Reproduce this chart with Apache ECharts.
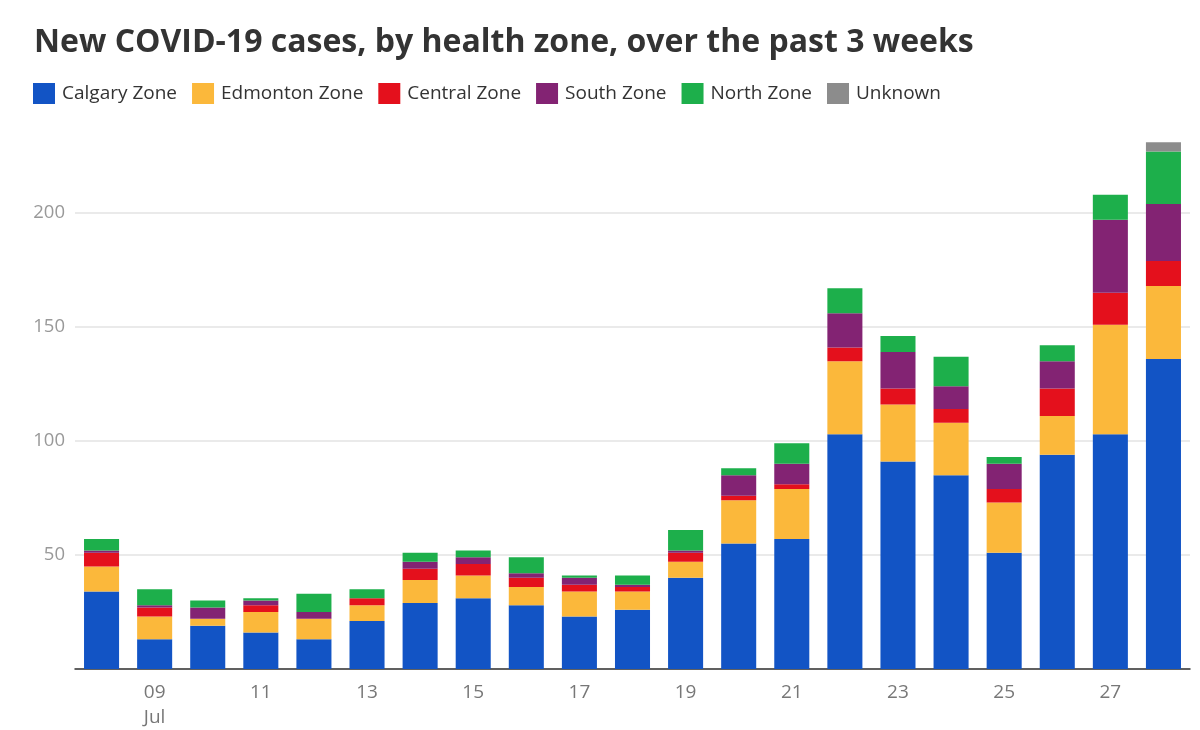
<!DOCTYPE html>
<html><head><meta charset="utf-8">
<script src="https://cdn.jsdelivr.net/npm/echarts@6/dist/echarts.min.js"></script>
<style>html,body{margin:0;padding:0;background:#fff}#c{width:1200px;height:730px}</style>
</head><body><div id="c"></div>
<script>
const days = ['08','09','10','11','12','13','14','15','16','17','18','19','20','21','22','23','24','25','26','27','28'];
const calgary  = [34,13,19,16,13,21,29,31,28,23,26,40,55,57,103,91,85,51,94,103,136];
const edmonton = [11,10,3,9,9,7,10,10,8,11,8,7,19,22,32,25,23,22,17,48,32];
const central  = [6,4,0,3,0,3,5,5,4,3,2,4,2,2,6,7,6,6,12,14,11];
const south    = [1,1,5,2,3,0,3,3,2,3,1,1,9,9,15,16,10,11,12,32,25];
const north    = [5,7,3,1,8,4,4,3,7,1,4,9,3,9,11,7,13,3,7,11,23];
const unknown  = [0,0,0,0,0,0,0,0,0,0,0,0,0,0,0,0,0,0,0,0,4];
const yTicks = [0,50,100,150,200];

const seriesDefs = [
  ['Calgary Zone', calgary, '#1254c5'],
  ['Edmonton Zone', edmonton, '#fbb83b'],
  ['Central Zone', central, '#e4101c'],
  ['South Zone', south, '#832373'],
  ['North Zone', north, '#1daf4b'],
  ['Unknown', unknown, '#8c8c8c']
];

const chart = echarts.init(document.getElementById('c'));
chart.setOption({
  animation: false,
  title: {
    text: 'New COVID-19 cases, by health zone, over the past 3 weeks',
    left: 34, top: 27, padding: 0,
    textStyle: {fontFamily: 'Open Sans', fontWeight: 'bold', fontSize: 32, color: '#333'}
  },
  legend: {
    left: 33, top: 83, padding: 0,
    icon: 'rect', itemWidth: 22, itemHeight: 21, itemGap: 15,
    textStyle: {fontFamily: 'Open Sans', fontSize: 19, color: '#333', padding: [0,0,0,2]},
    data: seriesDefs.map(s => s[0])
  },
  grid: {left: 75, right: 10, top: 99, bottom: 61},
  xAxis: {
    type: 'category', data: days,
    axisLine: {lineStyle: {color: '#333', width: 1.5}},
    axisTick: {show: false},
    axisLabel: {
      interval: (i) => i % 2 === 1,
      formatter: (v, i) => i === 1 ? v + '\nJul' : v,
      fontFamily: 'Open Sans', fontSize: 19, color: '#777', lineHeight: 25, margin: 11
    }
  },
  yAxis: {
    type: 'value', min: 0, max: 250, interval: 50,
    axisLine: {show: false}, axisTick: {show: false},
    axisLabel: {
      formatter: (v) => yTicks.includes(v) && v !== 0 ? String(v) : '',
      fontFamily: 'Open Sans', fontSize: 18.5, color: '#999', margin: 10
    },
    splitLine: {lineStyle: {color: ['#e3e3e3','#e3e3e3','#e3e3e3','#e3e3e3','#e3e3e3','rgba(0,0,0,0)'], width: 1.5}}
  },
  series: seriesDefs.map(s => ({
    name: s[0], type: 'bar', stack: 'total', data: s[1],
    barCategoryGap: '34%',
    itemStyle: {color: s[2]}
  }))
});
</script></body></html>
